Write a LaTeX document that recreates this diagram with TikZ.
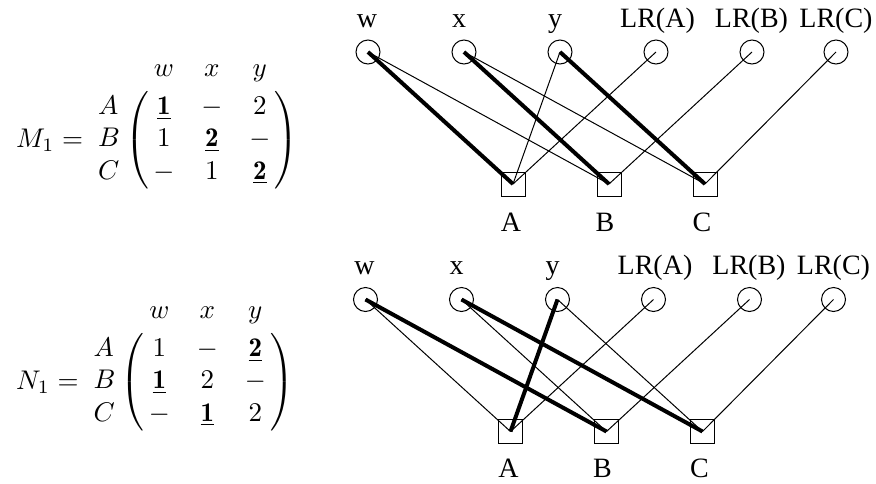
\documentclass[tikz,border=0pt]{standalone}
\usepackage{graphicx}
\usepackage{fontspec}
\newfontfamily\lblfont{Liberation Serif}
\begin{document}
\begin{tikzpicture}[x=1pt,y=-1pt,
  vtx/.style={circle,draw,line width=1pt,minimum size=24pt,inner sep=0pt},
  sq/.style={rectangle,draw,line width=1pt,minimum size=24pt,inner sep=0pt},
  lab/.style={font=\lblfont\fontsize{28}{32}\selectfont,inner sep=0pt,anchor=base},
  thinedge/.style={line width=1pt},
  thickedge/.style={line width=4pt},
  mat/.style={inner sep=0pt,anchor=base west}]
\useasboundingbox (0,0) rectangle (876,483);

% ---------- top matrix ----------
\node[mat] (M) at (16,147) {\scalebox{2.7}{$M_1 = \bordermatrix{ & w & x & y \cr
  A & \underline{\mathbf{1}} & - & 2 \cr
  B & 1 & \underline{\mathbf{2}} & - \cr
  C & - & 1 & \underline{\mathbf{2}} }$}};

% ---------- bottom matrix ----------
\node[mat] (N) at (16,389) {\scalebox{2.7}{$N_1 = \bordermatrix{ & w & x & y \cr
  A & 1 & - & \underline{\mathbf{2}} \cr
  B & \underline{\mathbf{1}} & 2 & - \cr
  C & - & \underline{\mathbf{1}} & 2 }$}};

% ---------- top graph ----------
\node[vtx] (tw) at (368,52) {};
\node[vtx] (tx) at (464,52) {};
\node[vtx] (ty) at (560,52) {};
\node[vtx] (tla) at (656,52) {};
\node[vtx] (tlb) at (752,52) {};
\node[vtx] (tlc) at (836,52) {};
\node[sq] (tA) at (513,184) {};
\node[sq] (tB) at (609,184) {};
\node[sq] (tC) at (705,184) {};
\node[lab] (ltw) at (367,27) {w};
\node[lab] (ltx) at (459,27) {x};
\node[lab] (lty) at (555,27) {y};
\node[lab] (ltla) at (657.5,27) {LR(A)};
\node[lab] (ltlb) at (751.5,27) {LR(B)};
\node[lab] (ltlc) at (836,27) {LR(C)};
\node[lab] (ltA) at (511,231) {A};
\node[lab] (ltB) at (605,231) {B};
\node[lab] (ltC) at (702,231) {C};

\draw[thickedge] (tw.center) -- (tA.center);
\draw[thinedge] (tw.center) -- (tB.center);
\draw[thickedge] (tx.center) -- (tB.center);
\draw[thinedge] (tx.center) -- (tC.center);
\draw[thinedge] (ty.center) -- (tA.center);
\draw[thickedge] (ty.center) -- (tC.center);
\draw[thinedge] (tla.center) -- (tA.center);
\draw[thinedge] (tlb.center) -- (tB.center);
\draw[thinedge] (tlc.center) -- (tC.center);

% ---------- bottom graph ----------
\node[vtx] (bw) at (365.5,299.5) {};
\node[vtx] (bx) at (461.5,299.5) {};
\node[vtx] (by) at (557.5,299.5) {};
\node[vtx] (bla) at (653.5,299.5) {};
\node[vtx] (blb) at (749.5,299.5) {};
\node[vtx] (blc) at (833.5,299.5) {};
\node[sq] (bA) at (510.5,431.5) {};
\node[sq] (bB) at (606.5,431.5) {};
\node[sq] (bC) at (702.5,431.5) {};
\node[lab] (lbw) at (364.5,274.5) {w};
\node[lab] (lbx) at (456.5,274.5) {x};
\node[lab] (lby) at (552.5,274.5) {y};
\node[lab] (lbla) at (655,274.5) {LR(A)};
\node[lab] (lblb) at (749,274.5) {LR(B)};
\node[lab] (lblc) at (833.5,274.5) {LR(C)};
\node[lab] (lbA) at (508.5,477) {A};
\node[lab] (lbB) at (602.5,477) {B};
\node[lab] (lbC) at (699.5,477) {C};

\draw[thinedge] (bw.center) -- (bA.center);
\draw[thickedge] (bw.center) -- (bB.center);
\draw[thinedge] (bx.center) -- (bB.center);
\draw[thickedge] (bx.center) -- (bC.center);
\draw[thickedge] (by.center) -- (bA.center);
\draw[thinedge] (by.center) -- (bC.center);
\draw[thinedge] (bla.center) -- (bA.center);
\draw[thinedge] (blb.center) -- (bB.center);
\draw[thinedge] (blc.center) -- (bC.center);
\end{tikzpicture}
\end{document}
